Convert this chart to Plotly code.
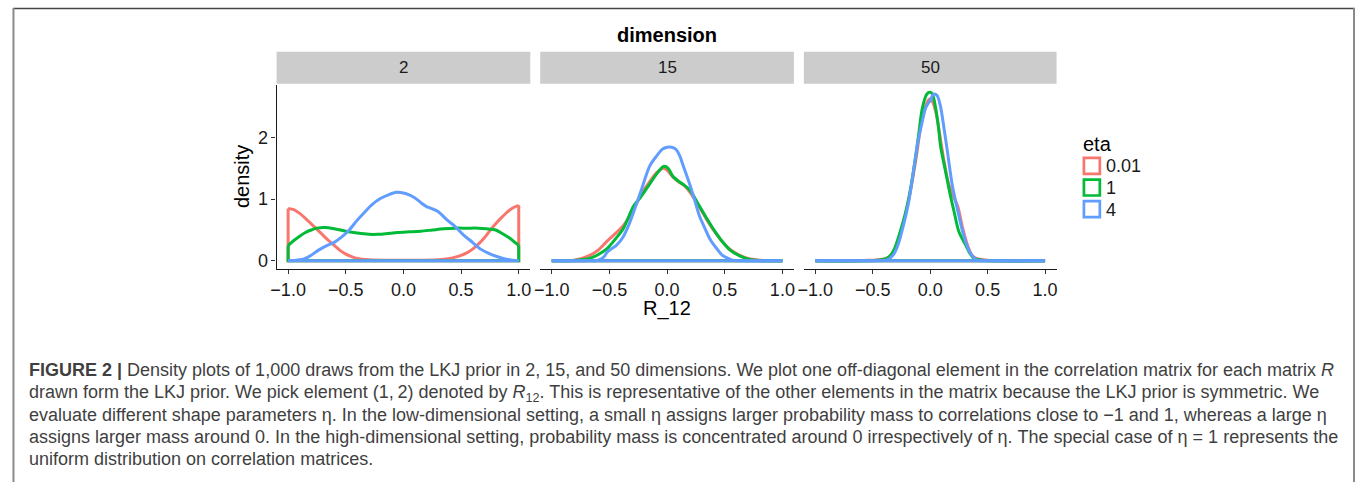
import plotly.graph_objects as go

W, H = 1357, 484

# ---------------- data ----------------
dimensions = ["2", "15", "50"]
etas = ["0.01", "1", "4"]
colors = {"0.01": "#F8766D", "1": "#00BA38", "4": "#619CFF"}

# dimension 2
d2_eta001_x = [-1, -0.95, -0.9, -0.85, -0.8, -0.75, -0.7, -0.65, -0.6, -0.55, -0.5, -0.45, -0.4, -0.3, -0.1,
               0.1, 0.3, 0.4, 0.45, 0.5, 0.55, 0.6, 0.65, 0.7, 0.75, 0.8, 0.85, 0.9, 0.95, 1]
d2_eta001_y = [0.85, 0.83, 0.77, 0.69, 0.60, 0.51, 0.42, 0.33, 0.25, 0.17, 0.11, 0.07, 0.04, 0.02, 0.01,
               0.01, 0.02, 0.04, 0.06, 0.09, 0.13, 0.19, 0.27, 0.37, 0.49, 0.60, 0.70, 0.79, 0.86, 0.90]
d2_eta1_x = [-1, -0.95, -0.9, -0.85, -0.8, -0.75, -0.68, -0.6, -0.5, -0.4, -0.3, -0.22, -0.15, -0.05, 0.05,
             0.15, 0.25, 0.35, 0.45, 0.55, 0.65, 0.72, 0.8, 0.86, 0.92, 0.96, 1]
d2_eta1_y = [0.25, 0.33, 0.40, 0.46, 0.50, 0.53, 0.54, 0.52, 0.48, 0.45, 0.43, 0.43, 0.44, 0.46, 0.47,
             0.48, 0.50, 0.52, 0.53, 0.53, 0.53, 0.52, 0.50, 0.44, 0.37, 0.31, 0.25]
d2_eta4_x = [-1, -0.93, -0.86, -0.8, -0.74, -0.66, -0.6, -0.54, -0.47, -0.4, -0.34, -0.28, -0.2, -0.13, -0.06,
             0.0, 0.05, 0.1, 0.16, 0.2, 0.24, 0.3, 0.38, 0.44, 0.52, 0.58, 0.67, 0.74, 0.81, 0.88, 0.95, 1]
d2_eta4_y = [0.0, 0.01, 0.03, 0.09, 0.17, 0.25, 0.30, 0.38, 0.50, 0.66, 0.78, 0.90, 1.01, 1.07, 1.11,
             1.10, 1.07, 1.02, 0.93, 0.88, 0.85, 0.80, 0.66, 0.57, 0.42, 0.33, 0.19, 0.12, 0.07, 0.03, 0.01, 0.0]

# dimension 15
d15_eta001_x = [-1, -0.9, -0.81, -0.74, -0.67, -0.6, -0.52, -0.45, -0.38, -0.3, -0.23, -0.16, -0.09, -0.03, 0.0,
                0.05, 0.1, 0.15, 0.2, 0.27, 0.34, 0.41, 0.48, 0.55, 0.63, 0.7, 0.77, 0.85, 1]
d15_eta001_y = [0.0, 0.002, 0.01, 0.04, 0.09, 0.17, 0.32, 0.44, 0.57, 0.80, 1.06, 1.26, 1.43, 1.50, 1.47,
                1.36, 1.28, 1.22, 1.11, 0.90, 0.68, 0.48, 0.31, 0.18, 0.09, 0.04, 0.02, 0.005, 0.0]
d15_eta1_x = [-1, -0.85, -0.75, -0.67, -0.6, -0.52, -0.45, -0.38, -0.29, -0.23, -0.16, -0.09, -0.03, 0.01,
              0.05, 0.1, 0.14, 0.2, 0.27, 0.34, 0.41, 0.48, 0.55, 0.63, 0.7, 0.77, 0.85, 1]
d15_eta1_y = [0.0, 0.003, 0.02, 0.04, 0.10, 0.20, 0.35, 0.52, 0.89, 1.03, 1.22, 1.41, 1.53, 1.50,
              1.37, 1.29, 1.24, 1.14, 0.92, 0.70, 0.49, 0.31, 0.17, 0.08, 0.03, 0.01, 0.003, 0.0]
d15_eta4_x = [-1, -0.7, -0.6, -0.55, -0.52, -0.48, -0.44, -0.38, -0.33, -0.29, -0.23, -0.15, -0.09, -0.04, 0.0,
              0.04, 0.08, 0.11, 0.14, 0.2, 0.24, 0.28, 0.33, 0.37, 0.43, 0.48, 0.53, 0.57, 0.65, 1]
d15_eta4_y = [0.0, 0.0, 0.01, 0.06, 0.14, 0.20, 0.25, 0.39, 0.59, 0.79, 1.11, 1.54, 1.70, 1.81, 1.84,
              1.84, 1.80, 1.70, 1.54, 1.22, 0.98, 0.73, 0.52, 0.36, 0.20, 0.09, 0.04, 0.01, 0.0, 0.0]

# dimension 50
d50_eta001_x = [-1, -0.65, -0.53, -0.45, -0.38, -0.33, -0.28, -0.22, -0.17, -0.12, -0.08, -0.04, -0.01,
                0.02, 0.05, 0.08, 0.12, 0.16, 0.2, 0.24, 0.28, 0.32, 0.36, 0.4, 0.5, 0.65, 1]
d50_eta001_y = [0.0, 0.0, 0.01, 0.02, 0.04, 0.12, 0.33, 0.72, 1.15, 1.70, 2.20, 2.50, 2.62,
                2.58, 2.40, 2.08, 1.62, 1.25, 1.05, 0.88, 0.55, 0.28, 0.10, 0.04, 0.01, 0.0, 0.0]
d50_eta1_x = [-1, -0.6, -0.46, -0.39, -0.35, -0.31, -0.27, -0.22, -0.17, -0.13, -0.1, -0.07, -0.03, 0.0,
              0.02, 0.04, 0.07, 0.09, 0.13, 0.17, 0.21, 0.25, 0.31, 0.35, 0.38, 0.46, 0.6, 1]
d50_eta1_y = [0.0, 0.0, 0.01, 0.03, 0.08, 0.20, 0.42, 0.74, 1.18, 1.65, 2.05, 2.46, 2.70, 2.73,
              2.70, 2.55, 2.20, 1.86, 1.48, 1.11, 0.78, 0.47, 0.25, 0.11, 0.04, 0.01, 0.0, 0.0]
d50_eta4_x = [-1, -0.6, -0.42, -0.37, -0.32, -0.28, -0.23, -0.19, -0.15, -0.11, -0.07, -0.04, 0.0,
              0.03, 0.06, 0.09, 0.12, 0.15, 0.19, 0.24, 0.29, 0.33, 0.37, 0.41, 0.5, 1]
d50_eta4_y = [0.0, 0.0, 0.005, 0.02, 0.10, 0.26, 0.60, 0.93, 1.40, 1.90, 2.25, 2.48, 2.60,
              2.70, 2.68, 2.50, 2.15, 1.77, 1.25, 0.81, 0.42, 0.20, 0.07, 0.01, 0.0, 0.0]

series = {
    "2": {"0.01": (d2_eta001_x, d2_eta001_y), "1": (d2_eta1_x, d2_eta1_y), "4": (d2_eta4_x, d2_eta4_y)},
    "15": {"0.01": (d15_eta001_x, d15_eta001_y), "1": (d15_eta1_x, d15_eta1_y), "4": (d15_eta4_x, d15_eta4_y)},
    "50": {"0.01": (d50_eta001_x, d50_eta001_y), "1": (d50_eta1_x, d50_eta1_y), "4": (d50_eta4_x, d50_eta4_y)},
}

x_tickvals = [-1, -0.5, 0, 0.5, 1]
x_ticktext = ["\u22121.0", "\u22120.5", "0.0", "0.5", "1.0"]
y_tickvals = [0, 1, 2]
y_ticktext = ["0", "1", "2"]

caption_lines = [
    "<b>FIGURE 2 |</b> Density plots of 1,000 draws from the LKJ prior in 2, 15, and 50 dimensions. We plot one off-diagonal element in the correlation matrix for each matrix <i>R</i>",
    "drawn form the LKJ prior. We pick element (1,\u20092) denoted by <i>R</i><sub>12</sub>. This is representative of the other elements in the matrix because the LKJ prior is symmetric. We",
    "evaluate different shape parameters \u03b7. In the low-dimensional setting, a small \u03b7 assigns larger probability mass to correlations close to \u22121 and 1, whereas a large \u03b7",
    "assigns larger mass around 0. In the high-dimensional setting, probability mass is concentrated around 0 irrespectively of \u03b7. The special case of \u03b7 = 1 represents the",
    "uniform distribution on correlation matrices.",
]

# ---------------- layout helpers ----------------
def px_x(p):
    return p / W


def px_y(p):
    return 1 - p / H


panel_px = [(272, 527), (537, 792), (802, 1056)]
plot_top, plot_bot = 85, 270
strip_top, strip_bot = 52, 84

FONT = "Liberation Sans, Arial, Helvetica, sans-serif"
TXT = "#1a1a1a"

fig = go.Figure()

for i, dim in enumerate(dimensions):
    xa = "x" if i == 0 else f"x{i+1}"
    ya = "y" if i == 0 else f"y{i+1}"
    for eta in etas:
        xs, ys = series[dim][eta]
        # closing part of the density polygon (ends + baseline)
        fig.add_trace(go.Scatter(
            x=[xs[-1], xs[-1], xs[0], xs[0]], y=[ys[-1], 0, 0, ys[0]],
            mode="lines", line=dict(color=colors[eta], width=3),
            xaxis=xa, yaxis=ya, showlegend=False, hoverinfo="skip"))
        fig.add_trace(go.Scatter(
            x=xs, y=ys, mode="lines",
            line=dict(color=colors[eta], width=3, shape="spline", smoothing=0.8),
            xaxis=xa, yaxis=ya, showlegend=False, name=eta))

layout = dict(
    width=W, height=H,
    margin=dict(l=0, r=0, t=0, b=0),
    paper_bgcolor="white", plot_bgcolor="white",
    font=dict(family=FONT, color=TXT),
    showlegend=False,
)

for i, (a, b) in enumerate(panel_px):
    xkey = "xaxis" if i == 0 else f"xaxis{i+1}"
    ykey = "yaxis" if i == 0 else f"yaxis{i+1}"
    ya = "y" if i == 0 else f"y{i+1}"
    layout[xkey] = dict(
        domain=[px_x(a), px_x(b)], range=[-1.1, 1.1], anchor=ya,
        tickvals=x_tickvals, ticktext=x_ticktext,
        ticks="outside", ticklen=4, tickwidth=1, tickcolor="#333333",
        showline=True, linecolor="#1a1a1a", linewidth=1.2,
        showgrid=False, zeroline=False,
        tickfont=dict(size=18, color=TXT, family=FONT),
    )
    ydict = dict(
        domain=[px_y(plot_bot), px_y(plot_top)], range=[-0.13, 2.855],
        anchor="x" if i == 0 else f"x{i+1}",
        showgrid=False, zeroline=False,
    )
    if i == 0:
        ydict.update(tickvals=y_tickvals, ticktext=y_ticktext, ticks="outside", ticklen=4,
                     tickwidth=1, tickcolor="#333333", showline=True, linecolor="#1a1a1a",
                     linewidth=1.2, tickfont=dict(size=18, color=TXT, family=FONT))
    else:
        ydict.update(showticklabels=False, ticks="", showline=False)
    layout[ykey] = ydict

shapes = []
annotations = []


def add_text(text, x, y, size, color=TXT, xanchor="center", angle=0):
    annotations.append(dict(text=text, x=px_x(x), y=px_y(y), xref="paper", yref="paper",
                            xanchor=xanchor, yanchor="middle", showarrow=False, textangle=angle,
                            align="left", font=dict(size=size, color=color, family=FONT)))


# frame
shapes.append(dict(type="line", xref="paper", yref="paper", x0=px_x(7), x1=px_x(1356),
                   y0=px_y(8.5), y1=px_y(8.5), line=dict(color="#444444", width=1.5)))
shapes.append(dict(type="line", xref="paper", yref="paper", x0=px_x(7.5), x1=px_x(7.5),
                   y0=px_y(8), y1=px_y(484), line=dict(color="#8a8a8a", width=2)))
shapes.append(dict(type="line", xref="paper", yref="paper", x0=px_x(1355), x1=px_x(1355),
                   y0=px_y(8), y1=px_y(484), line=dict(color="#8a8a8a", width=2)))

# strips
for (a, b), dim in zip(panel_px, dimensions):
    shapes.append(dict(type="rect", xref="paper", yref="paper", x0=px_x(a), x1=px_x(b),
                       y0=px_y(strip_bot), y1=px_y(strip_top), fillcolor="#CCCCCC",
                       line=dict(width=0), layer="below"))
    add_text(dim, (a + b) / 2, (strip_top + strip_bot) / 2, 17)

# titles
add_text("<b>dimension</b>", 664, 35, 20, color="black")
add_text("density", 237, 177, 20, color="black", angle=-90)
add_text("R_12", 664, 310, 20, color="black")

# legend
add_text("eta", 1081, 145, 20, color="black", xanchor="left")
key_tops = [157.5, 179.3, 201]
for eta, top in zip(etas, key_tops):
    shapes.append(dict(type="rect", xref="paper", yref="paper", x0=px_x(1083.5), x1=px_x(1099.5),
                       y0=px_y(top + 17), y1=px_y(top + 1), line=dict(color=colors[eta], width=2.7),
                       fillcolor="rgba(0,0,0,0)"))
    add_text(eta, 1104, top + 9.5, 18, xanchor="left")

# caption
cap_y = [372, 395, 417, 439, 461]
for line, yy in zip(caption_lines, cap_y):
    add_text(line, 21, yy, 18, color="#3f3f3f", xanchor="left")

layout["shapes"] = shapes
layout["annotations"] = annotations
fig.update_layout(**layout)

fig.write_html("out.html", config={"displayModeBar": False},
               post_script="document.body.style.margin='0';document.body.style.overflow='hidden';")
